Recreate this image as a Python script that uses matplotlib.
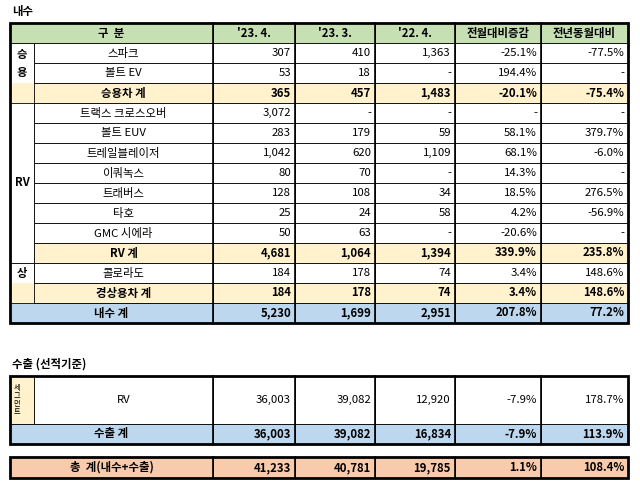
import matplotlib.pyplot as plt
from matplotlib.patches import Rectangle

plt.rcParams['font.family'] = ['Noto Sans CJK KR', 'Noto Sans CJK JP', 'Noto Sans CJK SC', 'DejaVu Sans']

headers = ["구  분", "'23. 4.", "'23. 3.", "'22. 4.", "전월대비증감", "전년동월대비"]

# (name, values, kind)
dom_rows = [
    ("스파크", ["307", "410", "1,363", "-25.1%", "-77.5%"], "item"),
    ("볼트 EV", ["53", "18", "-", "194.4%", "-"], "item"),
    ("승용차 계", ["365", "457", "1,483", "-20.1%", "-75.4%"], "sub"),
    ("트랙스 크로스오버", ["3,072", "-", "-", "-", "-"], "item"),
    ("볼트 EUV", ["283", "179", "59", "58.1%", "379.7%"], "item"),
    ("트레일블레이저", ["1,042", "620", "1,109", "68.1%", "-6.0%"], "item"),
    ("이쿼녹스", ["80", "70", "-", "14.3%", "-"], "item"),
    ("트래버스", ["128", "108", "34", "18.5%", "276.5%"], "item"),
    ("타호", ["25", "24", "58", "4.2%", "-56.9%"], "item"),
    ("GMC 시에라", ["50", "63", "-", "-20.6%", "-"], "item"),
    ("RV 계", ["4,681", "1,064", "1,394", "339.9%", "235.8%"], "sub"),
    ("콜로라도", ["184", "178", "74", "3.4%", "148.6%"], "item"),
    ("경상용차 계", ["184", "178", "74", "3.4%", "148.6%"], "sub"),
    ("내수 계", ["5,230", "1,699", "2,951", "207.8%", "77.2%"], "total"),
]
exp_rv = ["36,003", "39,082", "12,920", "-7.9%", "178.7%"]
exp_total = ["36,003", "39,082", "16,834", "-7.9%", "113.9%"]
grand_total = ["41,233", "40,781", "19,785", "1.1%", "108.4%"]

GREEN, YELLOW, BLUE, ORANGE = "#C6E0B4", "#FFF2CC", "#BDD7EE", "#F8CBAD"
xs = [10, 34, 213, 295, 375, 455, 541, 628]
fs = 8.2

fig = plt.figure(figsize=(6.4, 4.99), dpi=100)
ax = fig.add_axes([0, 0, 1, 1])
ax.set_xlim(0, 640)
ax.set_ylim(499, 0)
ax.axis('off')


def cell(x0, x1, y0, y1, color="white", text=None, ha="center", bold=False, lw=0.6):
    ax.add_patch(Rectangle((x0, y0), x1 - x0, y1 - y0, facecolor=color, edgecolor="black", lw=lw))
    if text is not None:
        tx = {"center": (x0 + x1) / 2, "right": x1 - 4, "left": x0 + 4}[ha]
        ax.text(tx, (y0 + y1) / 2, text, ha=ha, va="center", fontsize=fs,
                fontweight="bold" if bold else "normal")


def values(vals, y0, y1, color, bold):
    for i, v in enumerate(vals):
        cell(xs[i + 2], xs[i + 3], y0, y1, color, v, "right", bold)


ax.text(12, 11, "내수", fontsize=fs, fontweight="bold", va="center")
y = 23
rh = 20
cell(xs[0], xs[2], y, y + rh, GREEN, headers[0], bold=True)
for i, h in enumerate(headers[1:]):
    cell(xs[i + 2], xs[i + 3], y, y + rh, GREEN, h, bold=True)
y += rh
top = y
for name, vals, kind in dom_rows:
    if kind == "item":
        cell(xs[1], xs[2], y, y + rh, "white", name)
        values(vals, y, y + rh, "white", False)
    else:
        color = BLUE if kind == "total" else YELLOW
        x0 = xs[0] if kind == "total" else xs[1]
        cell(x0, xs[2], y, y + rh, color, name, bold=True)
        values(vals, y, y + rh, color, True)
    y += rh
# group columns
cell(xs[0], xs[1], top, top + 2 * rh, "white")
ax.text(22, top + rh * 0.55, "승", ha="center", va="center", fontsize=fs, fontweight="bold")
ax.text(22, top + rh * 1.45, "용", ha="center", va="center", fontsize=fs, fontweight="bold")
cell(xs[0], xs[1], top + 3 * rh, top + 11 * rh, "white", "RV", bold=True)
cell(xs[0], xs[1], top + 11 * rh, top + 12 * rh, "white", "상", bold=True)
ax.add_patch(Rectangle((xs[0], top + 2 * rh), xs[1] - xs[0], rh, facecolor=YELLOW, edgecolor="none"))
ax.add_patch(Rectangle((xs[0], top + 12 * rh), xs[1] - xs[0], rh, facecolor=YELLOW, edgecolor="none"))
ax.add_patch(Rectangle((xs[0], 23), xs[-1] - xs[0], y - 23, fill=False, edgecolor="black", lw=2))

# export
ax.text(12, 364, "수출 (선적기준)", fontsize=fs, fontweight="bold", va="center")
y0 = 376
cell(xs[0], xs[1], y0, y0 + 48, YELLOW)
ax.text(17, y0 + 24, "세\n그\n먼\n트", ha="center", va="center", fontsize=5.2, linespacing=1.0)
cell(xs[1], xs[2], y0, y0 + 48, "white", "RV")
values(exp_rv, y0, y0 + 48, "white", False)
cell(xs[0], xs[2], y0 + 48, y0 + 68, BLUE, "수출 계", bold=True)
values(exp_total, y0 + 48, y0 + 68, BLUE, True)
ax.add_patch(Rectangle((xs[0], y0), xs[-1] - xs[0], 68, fill=False, edgecolor="black", lw=2))

y0 = 457
cell(xs[0], xs[2], y0, y0 + 21, ORANGE, "총  계(내수+수출)", bold=True)
values(grand_total, y0, y0 + 21, ORANGE, True)
ax.add_patch(Rectangle((xs[0], y0), xs[-1] - xs[0], 21, fill=False, edgecolor="black", lw=2))
for x in xs[2:-1]:
    ax.plot([x, x], [23, 323], color="black", lw=1.2)
    ax.plot([x, x], [376, 444], color="black", lw=1.2)
    ax.plot([x, x], [457, 478], color="black", lw=1.2)

fig.savefig("out.png", dpi=100)
